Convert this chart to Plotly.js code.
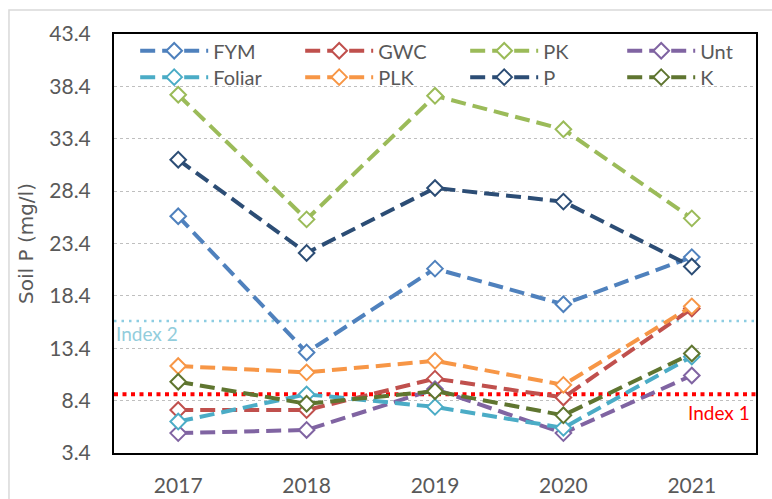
<!DOCTYPE html>
<html>
<head>
<meta charset="utf-8">
<script src="https://cdn.plot.ly/plotly-3.0.1.min.js"></script>
<style>html,body{margin:0;padding:0;background:#fff;}#chart{width:772px;height:499px;}</style>
</head>
<body>
<div id="chart"></div>
<script>
const years = ['2017', '2018', '2019', '2020', '2021'];
const seriesNames = ['FYM', 'GWC', 'PK', 'Unt', 'Foliar', 'PLK', 'P', 'K'];
const FYM    = [26.0, 13.0, 21.0, 17.6, 22.1];
const GWC    = [7.5, 7.5, 10.5, 8.7, 17.2];
const PK     = [37.6, 25.7, 37.5, 34.3, 25.8];
const Unt    = [5.3, 5.6, 9.5, 5.3, 10.8];
const Foliar = [6.4, 9.0, 7.8, 5.8, 12.6];
const PLK    = [11.7, 11.1, 12.2, 9.9, 17.4];
const P      = [31.4, 22.5, 28.7, 27.4, 21.2];
const K      = [10.2, 8.1, 9.3, 7.0, 12.9];
const seriesValues = [FYM, GWC, PK, Unt, Foliar, PLK, P, K];
const seriesColors = ['#4F81BD', '#C0504D', '#9BBB59', '#8064A2', '#4BACC6', '#F79646', '#2C4D75', '#5F7530'];
const seriesLegend = ['legend', 'legend', 'legend', 'legend3', 'legend2', 'legend2', 'legend2', 'legend4'];
const index1Value = 9.0;
const index2Value = 16.0;
const yTicks = [3.4, 8.4, 13.4, 18.4, 23.4, 28.4, 33.4, 38.4, 43.4];

const FONT = 'Lato, "Open Sans", sans-serif';
const GREY = '#595959';

const traces = seriesNames.map((name, i) => ({
  type: 'scatter',
  mode: 'lines+markers',
  name: name,
  x: years,
  y: seriesValues[i],
  legend: seriesLegend[i],
  line: {color: seriesColors[i], width: 4, dash: '15px,7px'},
  marker: {symbol: 'diamond', size: 12, color: '#FFFFFF', line: {color: seriesColors[i], width: 2}}
}));

const legendCommon = {
  orientation: 'h',
  xanchor: 'left',
  yanchor: 'middle',
  entrywidth: 82,
  entrywidthmode: 'pixels',
  itemwidth: 68,
  bgcolor: 'rgba(0,0,0,0)',
  font: {family: FONT, size: 20, color: GREY},
  traceorder: 'normal'
};
const row1Y = 0.96, row2Y = 0.897, col1X = 0.033, col4X = 0.7916;

const layout = {
  width: 772,
  height: 499,
  margin: {l: 114, r: 16, t: 34, b: 46, autoexpand: false},
  paper_bgcolor: '#FFFFFF',
  plot_bgcolor: '#FFFFFF',
  font: {family: FONT, color: GREY},
  showlegend: true,
  legend: Object.assign({}, legendCommon, {x: col1X, y: row1Y}),
  legend2: Object.assign({}, legendCommon, {x: col1X, y: row2Y}),
  legend3: Object.assign({}, legendCommon, {x: col4X, y: row1Y, entrywidth: 40}),
  legend4: Object.assign({}, legendCommon, {x: col4X, y: row2Y, entrywidth: 40}),
  xaxis: {
    type: 'category',
    categoryorder: 'array',
    categoryarray: years,
    range: [-0.5, 4.5],
    showline: true, mirror: true, linecolor: '#000000', linewidth: 2,
    showgrid: false, zeroline: false,
    ticks: '',
    ticklabelstandoff: 13,
    tickfont: {family: FONT, size: 21, color: GREY}
  },
  yaxis: {
    range: [3.4, 43.4],
    tickvals: yTicks,
    tickformat: '.1f',
    showline: true, mirror: true, linecolor: '#000000', linewidth: 2,
    showgrid: true, gridcolor: '#BFBFBF', griddash: 'dot', gridwidth: 1,
    zeroline: false,
    ticks: '',
    ticklabelstandoff: 17,
    tickfont: {family: FONT, size: 21, color: GREY},
    title: {text: 'Soil P (mg/l)', standoff: 10, font: {family: '"DejaVu Sans", sans-serif', size: 20, color: GREY}}
  },
  shapes: [
    {type: 'rect', xref: 'paper', yref: 'paper', x0: -0.1636, x1: 1.05, y0: -0.15, y1: 1.0573,
     line: {color: '#D9D9D9', width: 1.5}, fillcolor: 'rgba(0,0,0,0)', layer: 'below'},
    {type: 'line', xref: 'paper', yref: 'y', x0: 0, x1: 1, y0: index2Value, y1: index2Value,
     line: {color: '#8DCDE2', width: 2.5, dash: '2.5px,5px'}, layer: 'below'},
    {type: 'line', xref: 'paper', yref: 'y', x0: 0, x1: 1, y0: index1Value, y1: index1Value,
     line: {color: '#FF0000', width: 4, dash: '4px,4.5px'}, layer: 'below'}
  ],
  annotations: [
    {xref: 'paper', yref: 'y', x: 0.0, y: index2Value, xanchor: 'left', yanchor: 'top', yshift: 1,
     text: 'Index 2', showarrow: false, font: {family: FONT, size: 19, color: '#92CDDC'}},
    {xref: 'paper', yref: 'y', x: 0.993, y: index1Value, xanchor: 'right', yanchor: 'top', yshift: -5,
     text: 'Index 1', showarrow: false, font: {family: FONT, size: 19, color: '#FF0000'}}
  ]
};

Plotly.newPlot('chart', traces, layout, {displayModeBar: false, staticPlot: true});
</script>
</body>
</html>
